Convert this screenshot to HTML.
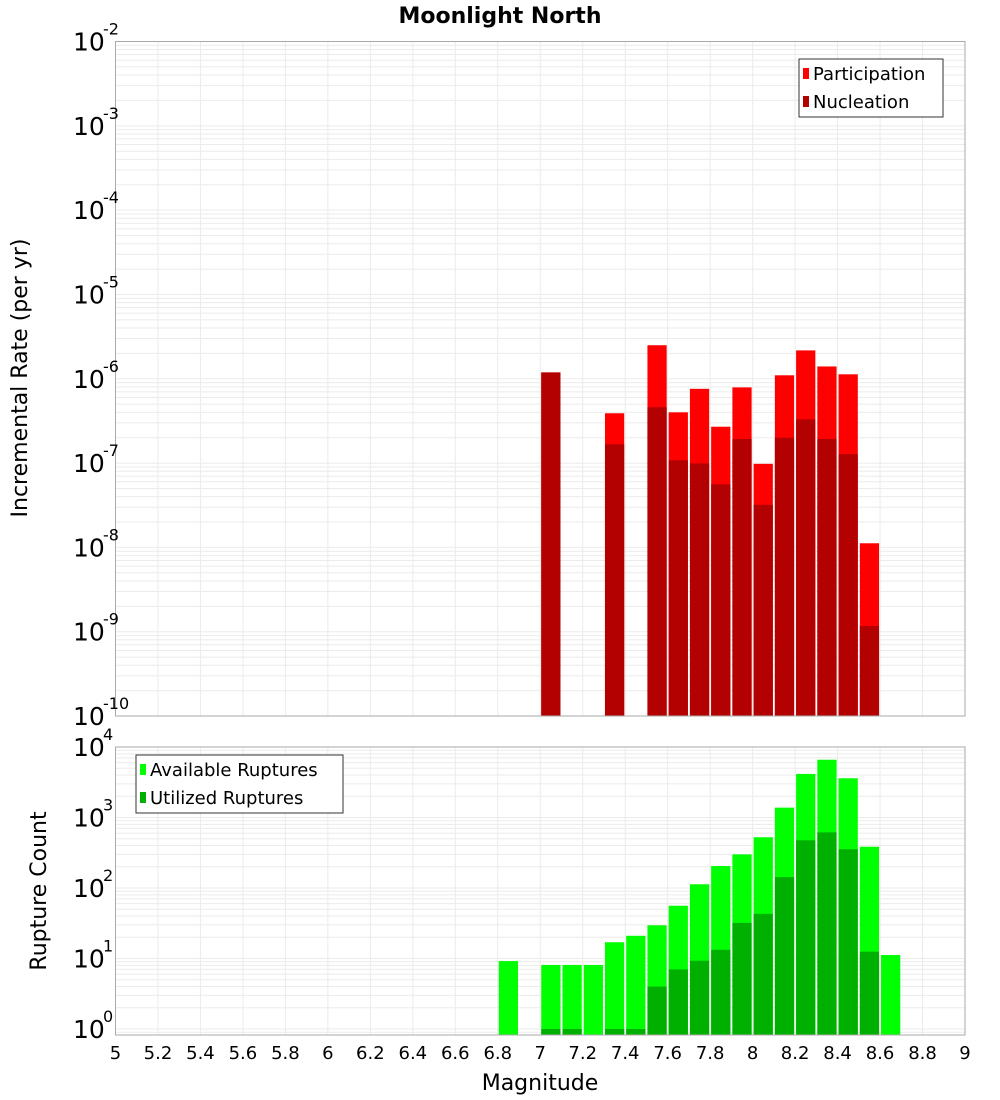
<!DOCTYPE html>
<html><head><meta charset="utf-8"><style>
body{margin:0;background:#fff;font-family:"Liberation Sans","DejaVu Sans",sans-serif}
svg{display:block}
</style></head><body>
<svg id="c" width="1000" height="1100" xmlns="http://www.w3.org/2000/svg" font-family="DejaVu Sans, Liberation Sans, sans-serif">
<text x="500" y="23" text-anchor="middle" font-size="22" font-weight="bold">Moonlight North</text>
<text transform="translate(27,378) rotate(-90)" text-anchor="middle" font-size="22">Incremental Rate (per yr)</text>
<text transform="translate(46,891) rotate(-90)" text-anchor="middle" font-size="22">Rupture Count</text>
<text x="540" y="1090" text-anchor="middle" font-size="22">Magnitude</text>
<g id="top"></g><g id="bot"></g>
</svg>
<script>
const mags=[6.85,7.05,7.15,7.25,7.35,7.45,7.55,7.65,7.75,7.85,7.95,8.05,8.15,8.25,8.35,8.45,8.55,8.65];
const participation=[0,1.19e-6,0,0,3.9e-7,0,2.5e-6,4.0e-7,7.6e-7,2.7e-7,7.9e-7,9.8e-8,1.1e-6,2.17e-6,1.4e-6,1.13e-6,1.12e-8,0];
const nucleation=[0,1.19e-6,0,0,1.67e-7,0,4.6e-7,1.08e-7,9.9e-8,5.6e-8,1.93e-7,3.2e-8,2.0e-7,3.3e-7,1.93e-7,1.28e-7,1.17e-9,0];
const available=[9.2,8.1,8.1,8.1,17,21,29.6,56,113,205,300,525,1380,4150,6600,3600,385,11.2];
const utilized=[0,1,1,0,1,1,4,7,9.3,13.3,32,43,143,475,615,355,12.5,0];
const xTicks=[5,5.2,5.4,5.6,5.8,6,6.2,6.4,6.6,6.8,7,7.2,7.4,7.6,7.8,8,8.2,8.4,8.6,8.8,9];
const topExp=[-2,-3,-4,-5,-6,-7,-8,-9,-10];
const botExp=[4,3,2,1,0];

const NS="http://www.w3.org/2000/svg";
const X0=115.5,X1=965;
const xs=m=>X0+(m-5)/4*(X1-X0);
function mk(p,tag,a){const e=document.createElementNS(NS,tag);for(const k in a)e.setAttribute(k,a[k]);p.appendChild(e);return e;}
function panel(g,top,bottom,ylo,yhi,yAt,exps,series,colors,labels,legend,nm){
  const ys=v=>yAt(Math.log10(v));
  // grid
  for(let d=Math.floor(ylo);d<Math.ceil(yhi);d++)for(let k=1;k<10;k++){
    const lv=d+Math.log10(k); if(lv<ylo||lv>yhi)continue;
    const l=mk(g,'line',{x1:X0,x2:X1,y1:yAt(lv),y2:yAt(lv),stroke:'#ebebeb','stroke-width':1});
    
    
  }
  xTicks.forEach(t=>{const l=mk(g,'line',{x1:xs(t),x2:xs(t),y1:top,y2:bottom,stroke:'#ebebeb'});
    
    });
  series.forEach((arr,si)=>{arr.forEach((v,i)=>{if(!(v>0))return;
    const yb=Math.min(bottom,ys(v));const x=xs(mags[i]-0.05)+1;
    const r=mk(g,'rect',{x:x,y:yb,width:xs(mags[i]+0.05)-x-1,height:bottom-yb,fill:colors[si],stroke:colors[si]==='#ff0000'||colors[si]==='#00ff00'?'#ff9a9a':'none','stroke-width':0});
    
    });});
  const b=mk(g,'rect',{x:X0,y:top,width:X1-X0,height:bottom-top,fill:'none',stroke:'#aaa'});
  
  
  exps.forEach(e=>{const y=yAt(e);
    const t=mk(g,'text',{x:73,y:y+9,'font-size':25});
    
    
    t.textContent='10';
    const s=mk(g,'text',{x:103,y:y-7,'font-size':16});
    
    
    s.textContent=String(e).replace('-','-');});
  // legend
  const [lx,ly,lw]=legend;
  const lb=mk(g,'rect',{x:lx,y:ly,width:lw,height:58,fill:'#fff',stroke:'#333'});
  
  
  labels.forEach((L,i)=>{const sw=mk(g,'rect',{x:lx+4,y:ly+9+i*28,width:6,height:11,fill:colors[i]});
    
    
    const t=mk(g,'text',{x:lx+14,y:ly+21+i*28,'font-size':18});
    
    
    t.textContent=L;});
}
const T=document.getElementById('top'),B=document.getElementById('bot');
panel(T,41.5,716,-10,-2,lv=>41.5+(-2-lv)*84.32,topExp,[participation,nucleation],['#ff0000','#b30000'],['Participation','Nucleation'],[799,59,144],'top');
panel(B,747,1035,-0.085,4,lv=>1029-lv*70.5,botExp,[available,utilized],['#00ff00','#00b000'],['Available Ruptures','Utilized Ruptures'],[136,755,207],'bottom');
xTicks.forEach(t=>{const e=mk(B,'text',{x:xs(t),y:1059,'text-anchor':'middle','font-size':18});
  
  
  e.textContent=String(t);});
</script>
</body></html>
